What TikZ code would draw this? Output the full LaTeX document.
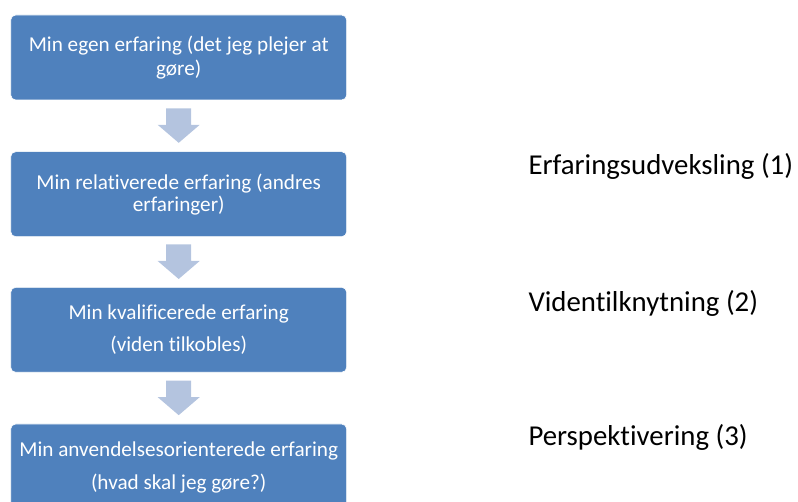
\documentclass[tikz,border=0pt]{standalone}
\usepackage{fontspec}
\setmainfont{Carlito}[Ligatures=NoCommon]
\usetikzlibrary{calc}
\definecolor{boxblue}{HTML}{4F81BD}
\definecolor{arrowblue}{HTML}{B4C4DF}
\tikzset{
  box/.style={fill=boxblue, draw=white, line width=0.6pt, rounded corners=5pt,
    minimum width=336pt, minimum height=85pt, inner sep=0pt},
  boxtext/.style={text=white, align=center, inner sep=0pt, anchor=base},
  sidelabel/.style={text=black, font=\fontsize{28.8}{34}\selectfont, inner sep=0pt, anchor=base west},
  blockarrow/.style={fill=arrowblue}
}
\begin{document}
\begin{tikzpicture}[x=1pt,y=-1pt]
\useasboundingbox (0,0) rectangle (798,502);
\begin{scope}
\clip (0,0) rectangle (798,502);
\node[box] (b1) at (178.7,57.5) {};
\node[box] (b2) at (178.7,194.2) {};
\node[box] (b3) at (178.7,329.8) {};
\node[box] (b4) at (178.7,466.5) {};
\end{scope}

\node[boxtext, font=\fontsize{21.2}{24}\selectfont] (t1) at (178.7,76)
  {Min egen erfaring (det jeg plejer at\\gøre)};
\node[boxtext, font=\fontsize{21.2}{22}\selectfont] (t2) at (178.7,212)
  {Min relativerede erfaring (andres\\erfaringer)};
\node[boxtext, font=\fontsize{21.2}{31.7}\selectfont] (t3) at (178.7,351.7)
  {Min kvalificerede erfaring\\(viden tilkobles)};
\node[boxtext, font=\fontsize{21.2}{32.3}\selectfont] (t4) at (178.7,489)
  {Min anvendelsesorienterede erfaring\\(hvad skal jeg gøre?)};

\foreach \a/\b/\n in {b1/b2/m1, b2/b3/m2, b3/b4/m3}{
  \coordinate (\n) at ($(\a.south)!0.5!(\b.north)$);
  \fill[blockarrow] ($(\n)+(-12.5,-17.5)$) -- ($(\n)+(12.5,-17.5)$)
    -- ($(\n)+(12.5,-1)$) -- ($(\n)+(21,-1)$) -- ($(\n)+(0,17)$)
    -- ($(\n)+(-21,-1)$) -- ($(\n)+(-12.5,-1)$) -- cycle;
}

\node[sidelabel] (l1) at (528.3,175) {Erfaringsudveksling (1)};
\node[sidelabel] (l2) at (528.3,311.7) {Videntilknytning (2)};
\node[sidelabel] (l3) at (528.3,446) {Perspektivering (3)};
\end{tikzpicture}
\end{document}
